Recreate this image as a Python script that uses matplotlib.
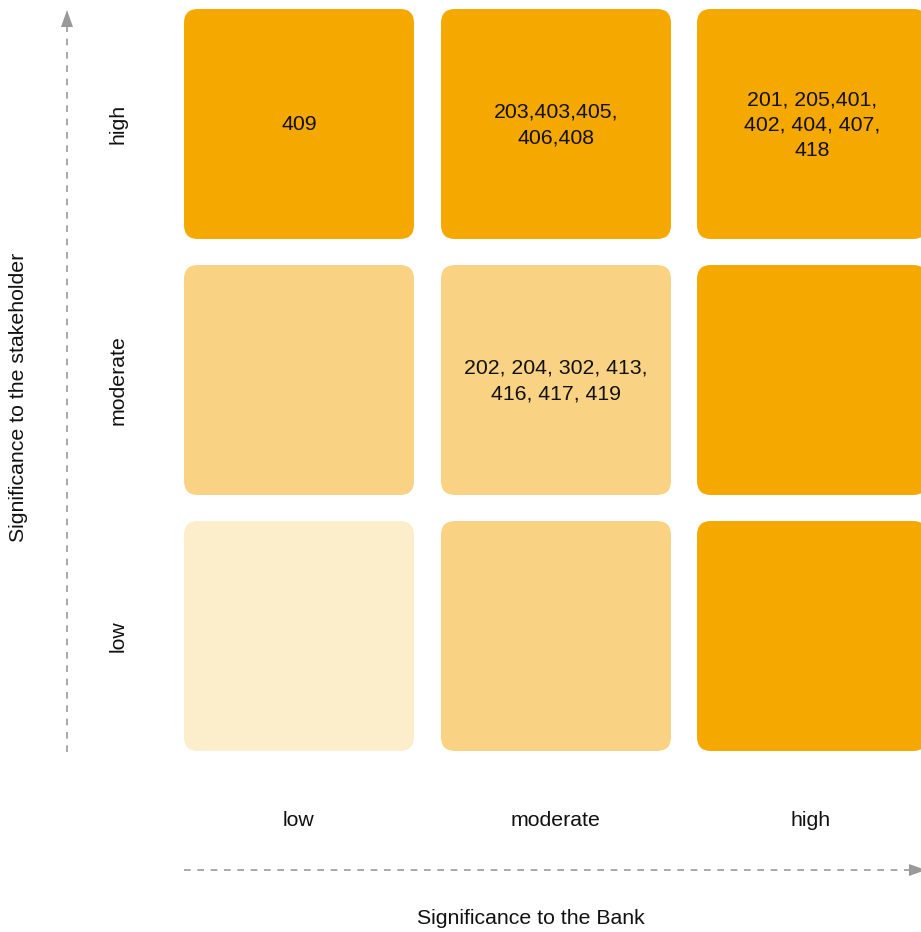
import matplotlib
matplotlib.use("Agg")
import matplotlib.pyplot as plt
from matplotlib.patches import FancyBboxPatch, Polygon

# ---- data ----
levels = ["low", "moderate", "high"]
# rows: stakeholder significance (high, moderate, low) top to bottom
row_levels = ["high", "moderate", "low"]
col_levels = ["low", "moderate", "high"]
cell_labels = [
    ["409", "203,403,405,\n406,408", "201, 205,401,\n402, 404, 407,\n418"],
    ["", "202, 204, 302, 413,\n416, 417, 419", ""],
    ["", "", ""],
]
# intensity level for each cell (0 light, 1 medium, 2 dark)
cell_intensity = [
    [2, 2, 2],
    [1, 1, 2],
    [0, 1, 2],
]
palette = ["#FCEDCB", "#F9D283", "#F5A800"]
x_title = "Significance to the Bank"
y_title = "Significance to the stakeholder"

# ---- layout ----
W, H = 921, 932
fig = plt.figure(figsize=(W / 100, H / 100), dpi=100)
ax = fig.add_axes([0, 0, 1, 1])
ax.set_xlim(0, W)
ax.set_ylim(H, 0)
ax.axis("off")

font = "Liberation Sans"
fs = 15.3
cell_w, cell_h = 230, 230
x0s = [184, 441, 697]
y0s = [9, 265, 521]
rad = 14

for r in range(3):
    for c in range(3):
        x0, y0 = x0s[c], y0s[r]
        p = FancyBboxPatch((x0, y0), cell_w, cell_h,
                           boxstyle=f"round,pad=0,rounding_size={rad}",
                           facecolor=palette[cell_intensity[r][c]],
                           edgecolor="none")
        ax.add_patch(p)
        if cell_labels[r][c]:
            ax.text(x0 + cell_w / 2, y0 + cell_h / 2 + 1, cell_labels[r][c],
                    ha="center", va="center", fontsize=fs, family=font,
                    linespacing=1.4, color="#111111")

# row labels
for r, lab in enumerate(row_levels):
    ax.text(118, y0s[r] + cell_h / 2, lab, rotation=90, ha="center",
            va="center", fontsize=fs, family=font, color="#111111")
# column labels
for c, lab in enumerate(col_levels):
    ax.text(x0s[c] + cell_w / 2 - 1, 820, lab, ha="center", va="center",
            fontsize=fs, family=font, color="#111111")

grey = "#999999"
# vertical arrow
ax.plot([67, 67], [752, 26], ls=(0, (4, 4)), color=grey, lw=1.2)
ax.add_patch(Polygon([[61, 27], [73, 27], [67, 10]], closed=True,
                     facecolor=grey, edgecolor="none"))
# horizontal arrow
ax.plot([184, 910], [870, 870], ls=(0, (4, 4)), color=grey, lw=1.2)
ax.add_patch(Polygon([[909, 864], [909, 876], [926, 870]], closed=True,
                     facecolor=grey, edgecolor="none"))

ax.text(19, 397, y_title, rotation=90, ha="center", va="center",
        fontsize=fs, family=font, color="#111111")
ax.text(531, 919, x_title, ha="center", va="center",
        fontsize=fs, family=font, color="#111111")

fig.savefig("out.png", dpi=100)
